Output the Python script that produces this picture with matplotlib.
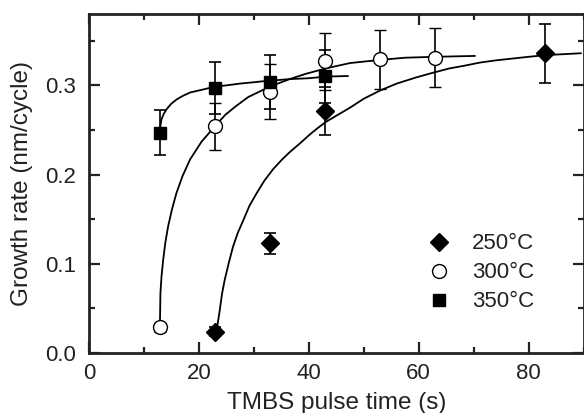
import matplotlib
matplotlib.use("Agg")
import matplotlib.pyplot as plt
from matplotlib.lines import Line2D
from matplotlib.ticker import MultipleLocator, FormatStrFormatter

plt.rcParams['font.family'] = ['Liberation Sans', 'DejaVu Sans']

# measured growth rates (nm/cycle) vs TMBS pulse time (s)
t250 = [23, 33, 43, 83]
g250 = [0.024, 0.123, 0.271, 0.336]
e250 = [0.005, 0.012, 0.027, 0.033]

t300 = [13, 23, 33, 43, 53, 63]
g300 = [0.029, 0.254, 0.293, 0.327, 0.329, 0.331]
e300 = [0.005, 0.026, 0.031, 0.032, 0.033, 0.033]

t350 = [13, 23, 33, 43]
g350 = [0.247, 0.297, 0.304, 0.310]
e350 = [0.025, 0.029, 0.030, 0.030]

# guide curves, points
fit250_x = [23.2, 23.5, 23.8, 24.2, 24.7, 25.4, 26.2, 27.1, 28.1, 29.2, 30.5,
            31.9, 33.5, 35.0, 36.5, 38.4, 40.2, 41.6, 43.1, 45.3, 47.5, 50.0,
            52.9, 56.0, 59.6, 62.5, 65.6, 68.3, 71.1, 74.0, 77.0, 80.0, 83.2,
            86.5, 89.5]
fit250_y = [0.024, 0.036, 0.048, 0.066, 0.082, 0.100, 0.119, 0.135, 0.149, 0.165,
            0.179, 0.193, 0.206, 0.216, 0.225, 0.235, 0.245, 0.252, 0.259, 0.267,
            0.275, 0.285, 0.294, 0.302, 0.309, 0.314, 0.319, 0.322, 0.3255, 0.328,
            0.330, 0.332, 0.334, 0.335, 0.336]

fit300_x = [12.9, 12.95, 13.0, 13.2, 13.5, 13.9, 14.4, 15.1, 15.9, 17.0, 18.4,
            20.5, 22.9, 24.8, 26.8, 29.0, 31.7, 33.5, 36.5, 39.5, 43.1, 47.5,
            52.9, 57.5, 62.9, 70.2]
fit300_y = [0.029, 0.048, 0.067, 0.086, 0.1045, 0.124, 0.142, 0.161, 0.179, 0.198,
            0.217, 0.237, 0.254, 0.267, 0.277, 0.287, 0.295, 0.300, 0.307, 0.313,
            0.319, 0.325, 0.3285, 0.331, 0.332, 0.333]

fit350_x = [12.9, 13.0, 13.2, 13.6, 14.1, 14.9, 15.9, 17.0, 18.4, 20.5, 22.9,
            25.0, 27.5, 30.0, 32.3, 34.5, 36.5, 40.0, 43.1, 47.1]
fit350_y = [0.247, 0.255, 0.262, 0.268, 0.273, 0.279, 0.284, 0.288, 0.292, 0.295,
            0.2985, 0.300, 0.302, 0.3035, 0.305, 0.306, 0.307, 0.308, 0.3098,
            0.3105]

labels = ['250°C', '300°C', '350°C']

fig = plt.figure(figsize=(5.84, 4.13), dpi=100)
ax = fig.add_axes([89 / 584, 60 / 413, 494.5 / 584, 339 / 413])

for fx, fy in [(fit250_x, fit250_y), (fit300_x, fit300_y), (fit350_x, fit350_y)]:
    ax.plot(fx, fy, color='k', lw=1.3, zorder=2, solid_joinstyle='round')

ebkw = dict(color='k', ecolor='k', elinewidth=1.2, capsize=4.5, capthick=1.2,
            ls='none', zorder=3)
ax.errorbar(t250, g250, yerr=e250, fmt='D', ms=9, mfc='k', mec='k', **ebkw)
ax.errorbar(t300, g300, yerr=e300, fmt='o', ms=10, mfc='white', mec='k', mew=1.0, **ebkw)
ax.errorbar(t350, g350, yerr=e350, fmt='s', ms=8.5, mfc='k', mec='k', **ebkw)

ax.set_xlim(0, 90)
ax.set_ylim(0, 0.38)
ax.xaxis.set_major_locator(MultipleLocator(20))
ax.xaxis.set_minor_locator(MultipleLocator(10))
ax.yaxis.set_major_locator(MultipleLocator(0.1))
ax.yaxis.set_minor_locator(MultipleLocator(0.05))
ax.yaxis.set_major_formatter(FormatStrFormatter('%.1f'))

ax.tick_params(which='both', direction='in', top=True, right=True, width=1.6,
               labelsize=16, colors='#222222')
ax.tick_params(which='major', length=8, pad=7)
ax.tick_params(axis='y', which='major', pad=9)
ax.tick_params(which='minor', length=4.5)
for s in ax.spines.values():
    s.set_linewidth(2)
    s.set_color('#222222')

ax.set_xlabel('TMBS pulse time (s)', fontsize=17.5, color='#222222', labelpad=6)
ax.set_ylabel('Growth rate (nm/cycle)', fontsize=17.5, color='#222222', labelpad=9)

handles = [
    Line2D([], [], marker='D', ms=9, color='k', ls='none'),
    Line2D([], [], marker='o', ms=10, mfc='white', mec='k', mew=1.0, ls='none'),
    Line2D([], [], marker='s', ms=8.5, color='k', ls='none'),
]
leg = ax.legend(handles, labels, loc='upper left', bbox_to_anchor=(0.685, 0.353),
                frameon=False, fontsize=16, handlelength=1.0, handletextpad=1.0,
                labelspacing=0.36, borderpad=0, borderaxespad=0)
for txt in leg.get_texts():
    txt.set_color('#222222')

fig.savefig('out.png', dpi=100)
